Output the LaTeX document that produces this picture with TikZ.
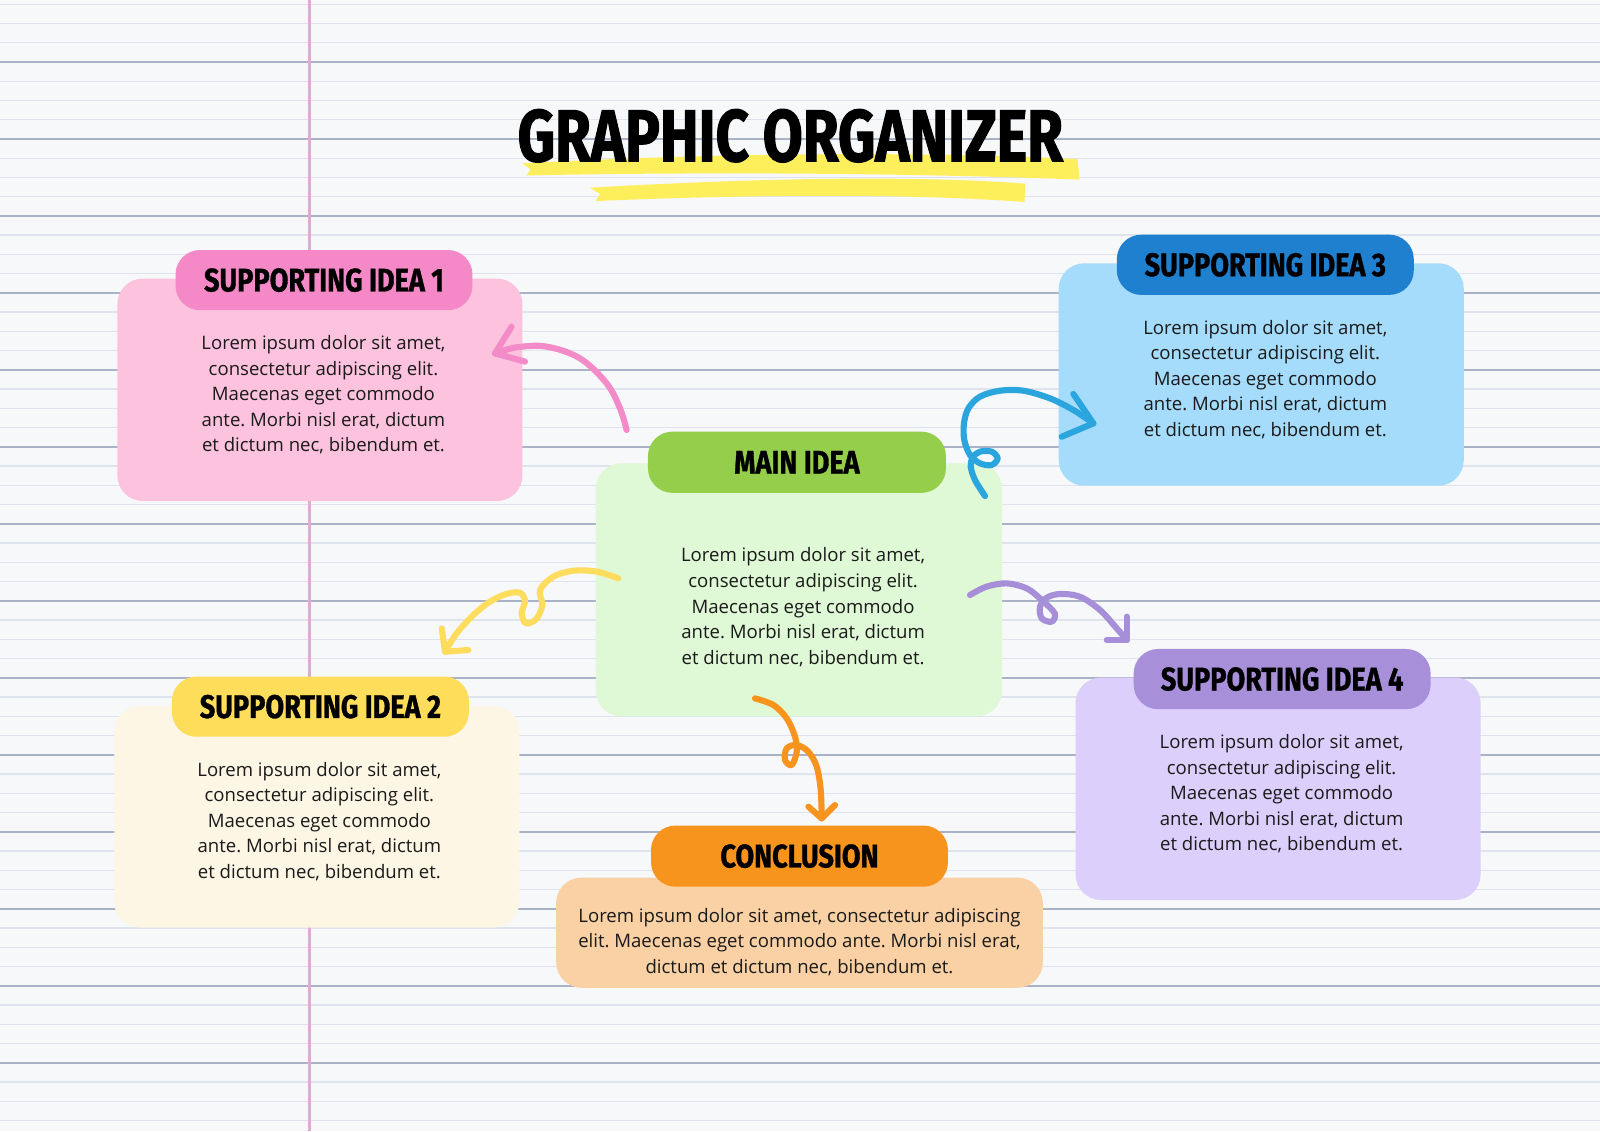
\documentclass[tikz,border=0pt]{standalone}
\usepackage{fontspec}
\setmainfont{Open Sans}
\newfontfamily\headfont[FakeStretch=0.83,FakeBold=1]{Fira Sans}
\newfontfamily\titlefont[FakeStretch=0.79,FakeBold=1.5]{Fira Sans}
\definecolor{bg}{HTML}{F7F8FA}
\definecolor{thinl}{HTML}{DEE3ED}
\definecolor{darkl}{HTML}{A9B2C7}
\definecolor{marg}{HTML}{DAAED2}
\definecolor{pinkbody}{HTML}{FDC2DD}
\definecolor{pinkhead}{HTML}{F588C7}
\definecolor{pinkarr}{HTML}{F28BC8}
\definecolor{bluebody}{HTML}{A6DCFB}
\definecolor{bluehead}{HTML}{1F80CF}
\definecolor{bluearr}{HTML}{2AA5DE}
\definecolor{greenbody}{HTML}{DFF8D5}
\definecolor{greenhead}{HTML}{95CE4B}
\definecolor{yelbody}{HTML}{FDF6E5}
\definecolor{yelhead}{HTML}{FDDD5A}
\definecolor{yelarr}{HTML}{FDDC5E}
\definecolor{purbody}{HTML}{DDCFFC}
\definecolor{purhead}{HTML}{A78FD9}
\definecolor{purarr}{HTML}{A68FD8}
\definecolor{orabody}{HTML}{F9D1A4}
\definecolor{orahead}{HTML}{F7941E}
\definecolor{oraarr}{HTML}{F7941E}
\definecolor{hilite}{HTML}{FDEF5C}
\definecolor{txt}{HTML}{1A1A1A}
\frenchspacing
\begin{document}
\frenchspacing
\begin{tikzpicture}[x=1pt,y=-1pt,
  bodybox/.style={rectangle, rounded corners=25pt, draw=none, inner sep=0pt, minimum width=397pt, minimum height=218pt},
  pill/.style={rectangle, rounded corners=24pt, draw=none, inner sep=0pt, minimum width=291pt, minimum height=59pt, text=black, font=\headfont\bfseries\fontsize{32}{32}\selectfont},
  bodytext/.style={align=center, text=txt, inner sep=0pt, font=\fontsize{18.2}{25}\selectfont},
  thinline/.style={draw=thinl, line width=1.4pt},
  darkline/.style={draw=darkl, line width=2.4pt},
  arr/.style={line width=6pt, line cap=round, line join=round},
  ahead/.style={line width=6pt, line cap=round, line join=round}
]
\useasboundingbox (0,0) rectangle (1568,1108.4);
\fill[bg] (0,0) rectangle (1568,1108.4);
% ruled lines
\foreach \k in {-3,...,55}{
  \pgfmathtruncatemacro\m{mod(\k+100,4)}
  \ifnum\m=0
    \draw[darkline] (0,{60.76+18.86*\k}) -- (1568,{60.76+18.86*\k});
  \else
    \draw[thinline] (0,{60.76+18.86*\k}) -- (1568,{60.76+18.86*\k});
  \fi
}
\draw[draw=marg, line width=3pt] (303,0) -- (303,1108.4);

% title highlighter
\fill[hilite] (512,160) .. controls (700,150) and (900,148) .. (1056,156)
  -- (1058,176) .. controls (900,170) and (700,168) .. (516,172) -- (520,166) -- cycle;
\fill[hilite] (578,184) .. controls (750,174) and (900,172) .. (1005,180)
  -- (1004,198) .. controls (900,190) and (750,190) .. (584,197) -- (588,190) -- cycle;
\node[anchor=base, inner sep=0pt, font=\titlefont\bfseries\fontsize{72}{72}\selectfont] (title) at (774.5,158) {GRAPHIC ORGANIZER};

% boxes
\node[bodybox, fill=pinkbody] (body1) at (313.5,382) {};
\node[pill, fill=pinkhead] (head1) at (317.5,274.5) {SUPPORTING IDEA 1};
\node[bodytext] (text1) at (317,387) {Lorem ipsum dolor sit amet,\\consectetur adipiscing elit.\\Maecenas eget commodo\\ante. Morbi nisl erat, dictum\\et dictum nec, bibendum et.};

\node[bodybox, fill=bluebody] (body3) at (1236,367) {};
\node[pill, fill=bluehead] (head3) at (1240,259.5) {SUPPORTING IDEA 3};
\node[bodytext] (text3) at (1240,372) {Lorem ipsum dolor sit amet,\\consectetur adipiscing elit.\\Maecenas eget commodo\\ante. Morbi nisl erat, dictum\\et dictum nec, bibendum et.};

\node[bodybox, fill=yelbody, minimum height=217pt] (body2) at (310.5,800.5) {};
\node[pill, fill=yelhead] (head2) at (314,692.5) {SUPPORTING IDEA 2};
\node[bodytext] (text2) at (313,805) {Lorem ipsum dolor sit amet,\\consectetur adipiscing elit.\\Maecenas eget commodo\\ante. Morbi nisl erat, dictum\\et dictum nec, bibendum et.};

\node[bodybox, fill=purbody] (body4) at (1252.5,773) {};
\node[pill, fill=purhead] (head4) at (1256.5,665.5) {SUPPORTING IDEA 4};
\node[bodytext] (text4) at (1256,778) {Lorem ipsum dolor sit amet,\\consectetur adipiscing elit.\\Maecenas eget commodo\\ante. Morbi nisl erat, dictum\\et dictum nec, bibendum et.};

\node[bodybox, fill=greenbody, minimum width=398pt, minimum height=248pt] (body0) at (783,578) {};
\node[pill, fill=greenhead, minimum width=292pt, minimum height=60pt] (head0) at (781,453) {MAIN IDEA};
\node[bodytext] (text0) at (787,595) {Lorem ipsum dolor sit amet,\\consectetur adipiscing elit.\\Maecenas eget commodo\\ante. Morbi nisl erat, dictum\\et dictum nec, bibendum et.};

\node[bodybox, fill=orabody, minimum width=477pt, minimum height=108pt] (body5) at (783.5,914) {};
\node[pill, fill=orahead, minimum height=60pt] (head5) at (783.5,839) {CONCLUSION};
\node[bodytext] (text5) at (783.5,923) {Lorem ipsum dolor sit amet, consectetur adipiscing\\elit. Maecenas eget commodo ante. Morbi nisl erat,\\dictum et dictum nec, bibendum et.};

% arrow coordinates
\coordinate (pS) at (614.1,421.4);
\coordinate (pT) at (485.1,346.3);
\coordinate (pA) at (501.4,320.1);
\coordinate (pB) at (514.5,354.4);

\coordinate (bS) at (965.3,486.1);
\coordinate (bT) at (1071.5,414.9);
\coordinate (bA) at (1051.9,386.1);
\coordinate (bB) at (1040.4,428);

\coordinate (yS) at (606,566.8);
\coordinate (yT) at (436.1,638.7);
\coordinate (yA) at (432.9,615.8);
\coordinate (yB) at (459,637);

\coordinate (uS) at (950.6,583.1);
\coordinate (uT) at (1104.2,627.2);
\coordinate (uA) at (1104.2,604.3);
\coordinate (uB) at (1084.6,627.2);

\coordinate (oS) at (739.9,684.4);
\coordinate (oT) at (805.3,802);
\coordinate (oA) at (792.2,790.5);
\coordinate (oB) at (818.3,788.9);

% pink arrow
\draw[arr, draw=pinkarr] plot[smooth, tension=0.6] coordinates {(pS) (607.6,400.2) (594.5,375.7) (568.4,351.2) (535.7,339.7) (506.3,340.4) (pT)};
\draw[ahead, draw=pinkarr] (pA) -- (pT) -- (pB);

% blue arrow
\draw[arr, draw=bluearr] plot[smooth, tension=0.55] coordinates {(bS) (955.5,470.4) (951.3,457.3) (953.2,448.2) (960.4,442.6) (971.8,442.6) (977.7,449.2) (971.8,455.7) (960.4,454.1) (950.6,445.9) (945,431.2) (944.7,414.9) (949,400.2) (960.4,388.7) (980,382.9) (1002.9,382.9) (1029,390.4) (1051.9,401.8) (bT)};
\draw[ahead, draw=bluearr] (bA) -- (bT) -- (bB);

% yellow arrow
\draw[arr, draw=yelarr] plot[smooth, tension=0.55] coordinates {(yS) (584.8,560.2) (561.9,559.3) (542.3,565.1) (529.2,578.2) (531.5,592.9) (525.5,606.6) (515.5,610.9) (511.2,601) (514.5,589) (509.6,580.9) (496.5,582) (480.2,589.6) (463.9,602.7) (447.5,620.7) (yT)};
\draw[ahead, draw=yelarr] (yA) -- (yT) -- (yB);

% purple arrow
\draw[arr, draw=purarr] plot[smooth, tension=0.55] coordinates {(uS) (966.9,574.9) (986.5,571.7) (1006.2,576.6) (1020.9,588) (1033.6,601) (1030.7,609.2) (1020.9,606) (1019.2,594.5) (1025.7,585.8) (1038.8,582.1) (1058.4,584.8) (1078,597.8) (1094.4,615.8) (uT)};
\draw[ahead, draw=purarr] (uA) -- (uT) -- (uB);

% orange arrow
\draw[arr, draw=oraarr] plot[smooth, tension=0.55] coordinates {(oS) (757.9,690.9) (771,704) (779.1,721.9) (780.8,736.7) (775.9,749.7) (769.3,744.8) (771,733.4) (780.8,730.1) (792.2,736.7) (800.4,751.4) (804.3,774.2) (oT)};
\draw[ahead, draw=oraarr] (oA) -- (oT) -- (oB);
\end{tikzpicture}
\end{document}
